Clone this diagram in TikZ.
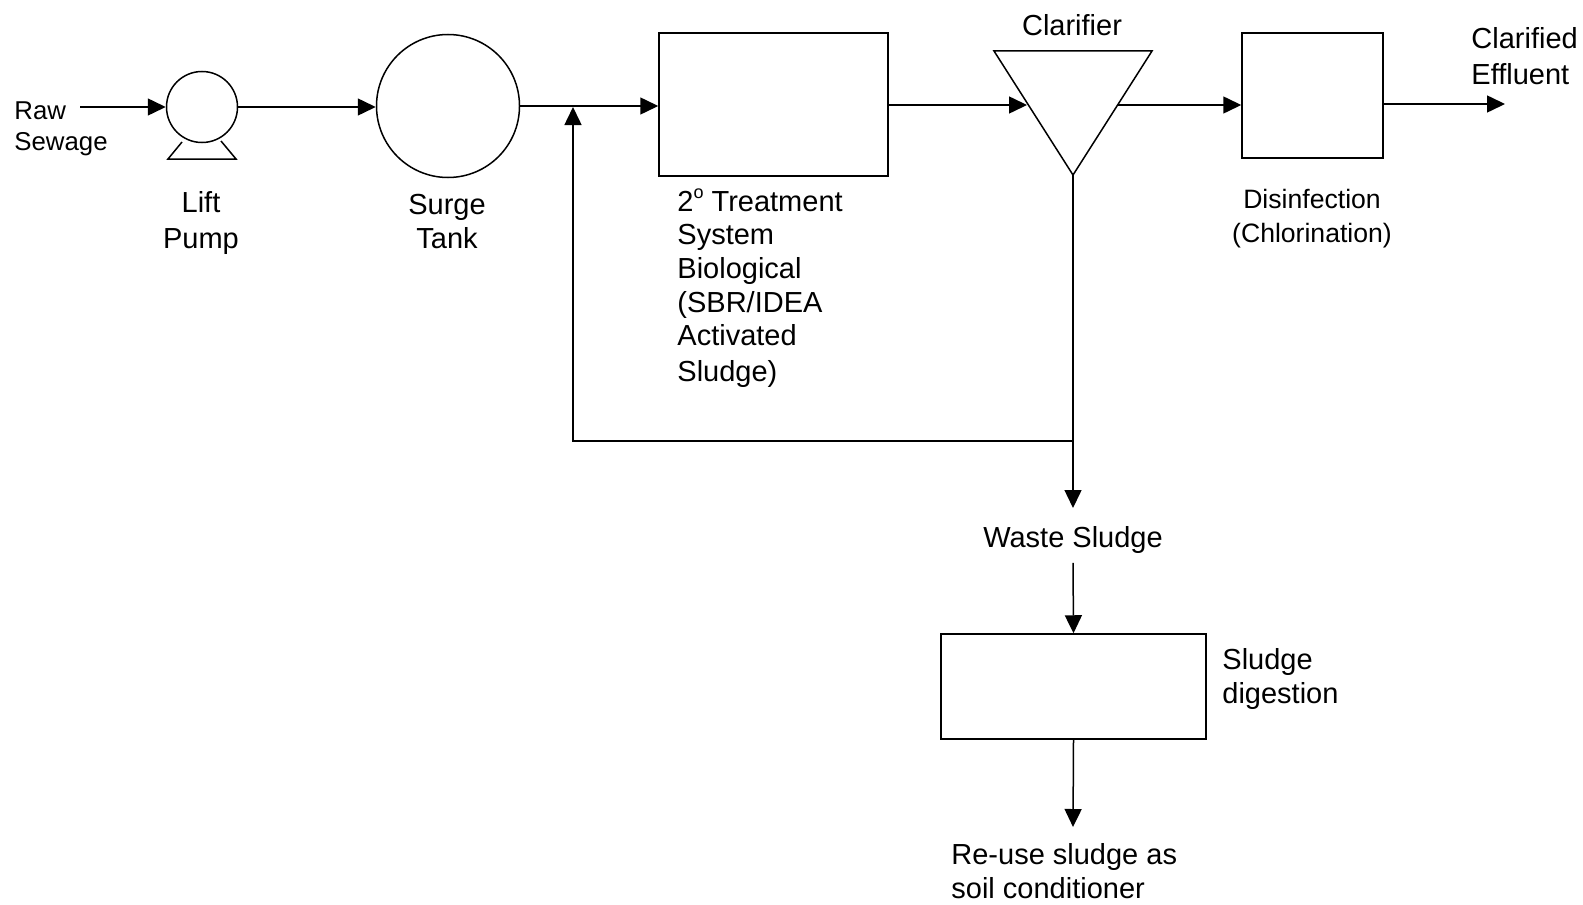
\documentclass[tikz,border=0pt]{standalone}
\usepackage{fontspec}
\setmainfont{Liberation Sans}
\usetikzlibrary{arrows.meta}
\tikzset{
  unit/.style={draw,line width=0.75pt,inner sep=0pt},
  vessel/.style={unit,circle},
  lbl/.style={inner sep=0pt,align=center,font=\fontsize{14.5}{17}\selectfont},
  lblleft/.style={lbl,align=left,anchor=west},
  flow/.style={line width=0.75pt,-{Triangle[length=9pt,width=8.5pt]}},
  pipe/.style={line width=0.75pt}
}
\begin{document}
\begin{tikzpicture}[x=0.5pt,y=-0.5pt]
  \useasboundingbox (0,0) rectangle (1583,904);
  % units
  \node[vessel,minimum size=35.5pt] (pump) at (202,107) {};
  \draw[pipe] (182,142) -- (168,159) -- (236,159) -- (221,141);
  \node[vessel,minimum size=71.5pt] (tank) at (448,106) {};
  \node[unit,minimum width=114.5pt,minimum height=71.5pt] (aeration) at (773.5,104.5) {};
  \node[unit,minimum width=70.5pt,minimum height=62.5pt] (disinfect) at (1312.5,95.5) {};
  \node[unit,minimum width=132.5pt,minimum height=52.5pt] (digester) at (1073.5,686.5) {};
  \coordinate (clarL) at (994,51);
  \coordinate (clarR) at (1152,51);
  \coordinate (clarB) at (1073,175);
  \draw[pipe] (clarL) -- (clarR) -- (clarB) -- cycle;
  % labels
  \node[lblleft,font=\fontsize{12.9}{15.5}\selectfont] (raw) at (14,129) {Raw\\Sewage};
  \node[lbl,font=\fontsize{14.5}{18}\selectfont] (pumplbl) at (201,223) {Lift\\Pump};
  \node[lbl] (tanklbl) at (447,222) {Surge\\Tank};
  \node[lblleft,font=\fontsize{14.5}{16.8}\selectfont] (aerationlbl) at (677,288) {2\raisebox{0.45em}{\fontsize{9}{9}\selectfont o} Treatment\\System\\Biological\\(SBR/IDEA\\Activated\\[1pt]Sludge)};
  \node[lbl] (clarlbl) at (1072,25) {Clarifier};
  \node[lbl,font=\fontsize{13.3}{17}\selectfont] (disinfectlbl) at (1312,219) {Disinfection\\(Chlorination)};
  \node[lblleft,font=\fontsize{14.5}{18}\selectfont] (efflbl) at (1471,56) {Clarified\\Effluent};
  \node[lbl] (wastelbl) at (1073,540) {Waste Sludge};
  \node[lblleft] (digestlbl) at (1222,679) {Sludge\\digestion};
  \node[lblleft] (reuselbl) at (951,871) {Re-use sludge as\\soil conditioner};
  % connectors
  \coordinate (rawend) at (80,107);
  \coordinate (clarin) at (1027,105);
  \coordinate (clarout) at (1118,105);
  \coordinate (effend) at (1505,104);
  \coordinate (split) at (1073,441);
  \coordinate (retcorner) at (573,441);
  \coordinate (retend) at (573,107);
  \coordinate (wasteend) at (1073,508);
  \coordinate (reuseend) at (1073,827);
  \draw[flow] (rawend) -- (pump);
  \draw[flow] (pump.east) -- (tank.west |- pump.east);
  \draw[flow] (tank.east) -- (aeration.west |- tank.east);
  \draw[flow] (aeration.east |- clarin) -- (clarin);
  \draw[flow] (clarout) -- (disinfect.west |- clarout);
  \draw[flow] (disinfect.east |- effend) -- (effend);
  \draw[pipe] (clarB) -- (split);
  \draw[flow] (split) -- (retcorner) -- (retend);
  \draw[flow] (split) -- (wasteend);
  \draw[flow] (wastelbl.south) ++(0,9) -- (digester.north);
  \draw[flow] (digester.south) -- (reuseend);
\end{tikzpicture}
\end{document}
